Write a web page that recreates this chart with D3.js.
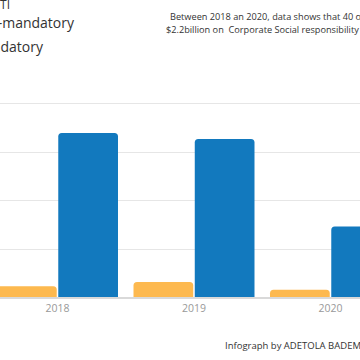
<!DOCTYPE html>
<html>
<head>
<meta charset="utf-8">
<script src="https://cdn.jsdelivr.net/npm/d3@7"></script>
<style>
  html, body { margin: 0; padding: 0; background: #fff; }
  svg { display: block; font-family: "Open Sans", sans-serif; }
</style>
</head>
<body>
<svg id="chart" width="360" height="360"></svg>
<script>
// ---- data (values in million USD) ----
const years = ["2018", "2019", "2020"];
const seriesNames = ["Non-mandatory", "Mandatory"];
const nonMandatory = [55, 77, 38];
const mandatory = [845, 814, 364];
const gridTicks = [0, 250, 500, 750, 1000];
const colors = ["#FDB94F", "#1279BE"];
const titleTail = "NEITI";
const noteLines = [
  "Between 2018 an 2020, data shows that 40 oil and gas companies spent",
  "$2.2billion on  Corporate Social responsibility (CSR)"
];
const credit = "Infograph by ADETOLA BADEMOSI";

const svg = d3.select("#chart");

const y = d3.scaleLinear().domain([0, 1000]).range([297, 103]);
const x0 = d3.scaleBand().domain(years).range([-3, 391]).paddingInner(0.1136).paddingOuter(0);
const x1 = d3.scaleBand().domain(seriesNames).range([0, x0.bandwidth()]).paddingInner(0.025);

// grid lines
svg.append("g").selectAll("line").data(gridTicks.filter(d => d > 0)).join("line")
  .attr("x1", -50).attr("x2", 400)
  .attr("y1", d => Math.round(y(d)) + 0.5).attr("y2", d => Math.round(y(d)) + 0.5)
  .attr("stroke", "#e6e6e6").attr("stroke-width", 1);

// bars with rounded top corners
function barPath(x, yTop, w, yBase, r) {
  const h = yBase - yTop;
  r = Math.min(r, h, w / 2);
  return `M${x},${yBase}V${yTop + r}Q${x},${yTop} ${x + r},${yTop}H${x + w - r}Q${x + w},${yTop} ${x + w},${yTop + r}V${yBase}Z`;
}

const rows = years.map((yr, i) => ({ year: yr, values: [nonMandatory[i], mandatory[i]] }));
const groups = svg.append("g").selectAll("g").data(rows).join("g")
  .attr("transform", d => `translate(${x0(d.year)},0)`);
groups.selectAll("path").data(d => d.values.map((v, k) => ({ name: seriesNames[k], v, k }))).join("path")
  .attr("d", d => barPath(x1(d.name), y(d.v), x1.bandwidth(), y(0), 3.5))
  .attr("fill", d => colors[d.k]);

// baseline axis
svg.append("line").attr("x1", -50).attr("x2", 400).attr("y1", y(0) + 1).attr("y2", y(0) + 1)
  .attr("stroke", "#d9d9d9").attr("stroke-width", 2);

const xAxis = d3.axisBottom(x0).tickSize(0).tickPadding(0);
const ax = svg.append("g").attr("transform", `translate(0,${y(0) + 8})`).call(xAxis);
ax.select(".domain").remove();
ax.selectAll("text").attr("dy", "0.71em").attr("font-size", 10.5).attr("fill", "#999")
  .attr("font-family", "Open Sans, sans-serif");

// title tail & legend labels
svg.append("text").attr("x", 10).attr("y", 9).attr("text-anchor", "end")
  .attr("font-size", 12).attr("fill", "#333").text(titleTail);
svg.append("g").selectAll("text").data(seriesNames).join("text")
  .attr("x", (d, i) => i === 0 ? 74 : 43).attr("y", (d, i) => 28 + i * 24)
  .attr("text-anchor", "end")
  .attr("font-size", 14).attr("fill", "#333").text(d => d);

// note
svg.append("g").selectAll("text").data(noteLines).join("text")
  .attr("x", (d, i) => i === 0 ? 170 : 166).attr("y", (d, i) => 20 + i * 12.5)
  .style("white-space", "pre")
  .attr("font-size", 9.2).attr("fill", "#333").text(d => d);

// credit
svg.append("text").attr("x", 225).attr("y", 349).attr("font-size", 9.5)
  .attr("fill", "#333").text(credit);
</script>
</body>
</html>
